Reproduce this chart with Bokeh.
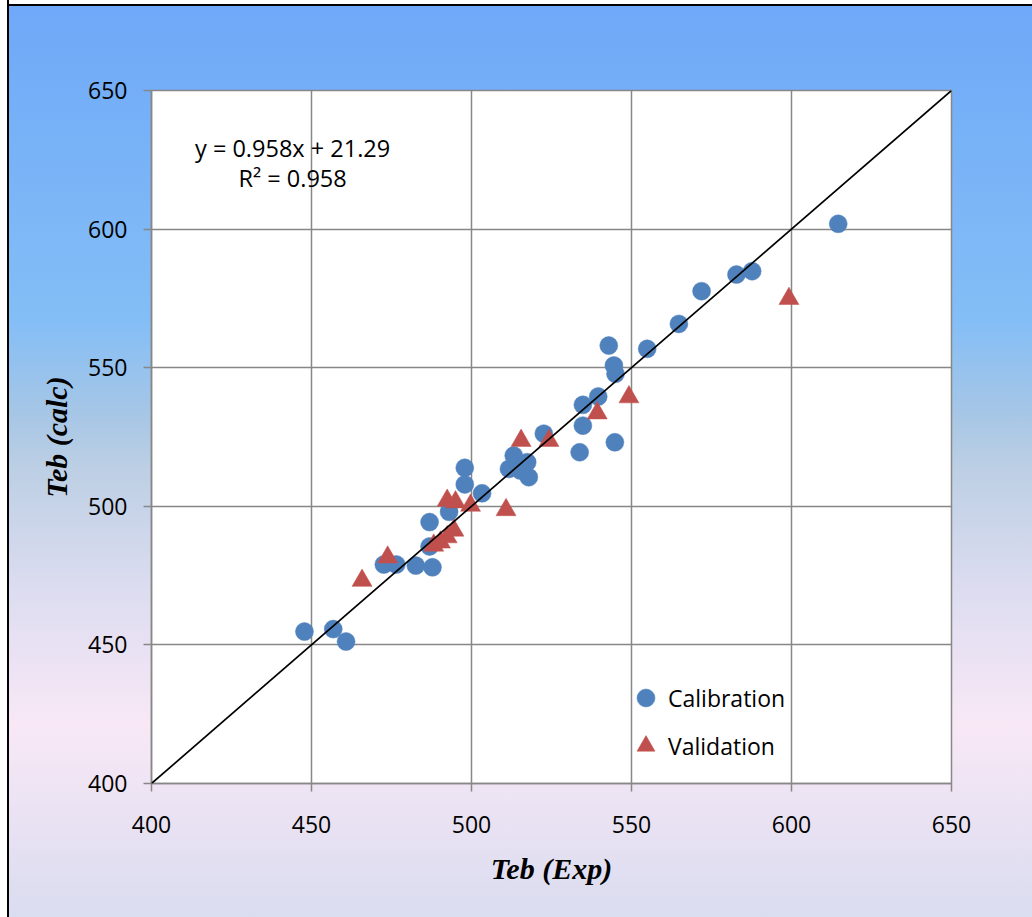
from bokeh.plotting import figure
from bokeh.models import Label, Slope, Legend
from bokeh.embed import file_html
from bokeh.resources import INLINE

# Calibration set (experimental vs calculated)
cal_exp = [447.8, 456.8, 460.8, 472.6, 476.5, 482.6, 487.8, 486.9, 486.9, 493.0,
           497.9, 497.9, 503.3, 511.7, 513.2, 517.4, 517.9, 515.3, 522.6, 533.8,
           534.8, 534.8, 539.6, 544.8, 542.9, 544.5, 545.0, 554.9, 564.8, 571.9,
           582.8, 587.7, 614.6]
cal_calc = [454.8, 455.7, 451.2, 479.0, 479.0, 478.6, 478.0, 494.3, 485.5, 498.0,
            513.9, 507.9, 504.7, 513.5, 518.3, 515.9, 510.5, 512.9, 526.2, 519.5,
            529.1, 536.6, 539.6, 523.1, 558.0, 550.8, 547.8, 556.8, 565.8, 577.6,
            583.6, 584.8, 601.9]

# Validation set
val_exp = [465.8, 473.8, 492.4, 495.0, 488.2, 490.3, 492.4, 494.5, 499.7, 510.8,
           515.5, 524.2, 539.3, 549.2, 599.2]
val_calc = [473.2, 481.6, 502.1, 501.5, 485.9, 487.0, 488.9, 491.3, 500.3, 498.7,
            523.7, 523.7, 533.6, 539.4, 574.9]

ticks = [400, 450, 500, 550, 600, 650]
eq_text = "y = 0.958x + 21.29"
r2_text = "R² = 0.958"

p = figure(width=1032, height=917, x_range=(400, 650), y_range=(400, 650),
           output_backend="svg", toolbar_location=None,
           min_border_left=151, min_border_right=81, min_border_top=90,
           min_border_bottom=134)
p.border_fill_color = None
p.background_fill_color = "white"
p.outline_line_color = "#878787"
p.outline_line_width = 1.5
p.styles = {
    "background": (
        "linear-gradient(to right, #ffffff 0px, #ffffff 7px, #000000 7px, #000000 9px, rgba(0,0,0,0) 9px),"
        "linear-gradient(to bottom, #ffffff 0px, #ffffff 4px, #000000 4px, #000000 6px, rgba(0,0,0,0) 6px),"
        "linear-gradient(to bottom, #6ea8f8 0%, #84bef6 35%, #a6c6e6 45%, #bccfe4 51%, "
        "#dcdcf0 64%, #f8e8f6 79%, #dadcf0 100%)"
    )
}

GRID = "#878787"
for ax in (p.xaxis[0], p.yaxis[0]):
    ax.ticker = ticks
    ax.axis_line_color = GRID
    ax.axis_line_width = 1.5
    ax.major_tick_line_color = GRID
    ax.major_tick_line_width = 1.5
    ax.major_tick_out = 8
    ax.major_tick_in = 0
    ax.minor_tick_line_color = None
    ax.major_label_text_font = "Open Sans"
    ax.major_label_text_font_size = "23px"
    ax.major_label_text_color = "black"
    ax.axis_label_text_font = "Liberation Serif"
    ax.axis_label_text_font_style = "bold italic"
    ax.axis_label_text_font_size = "30px"
    ax.axis_label_text_color = "black"

p.xaxis.axis_label = "Teb (Exp)"
p.yaxis.axis_label = "Teb (calc)"
p.xaxis.major_label_standoff = 24
p.yaxis.major_label_standoff = 16
p.xaxis.axis_label_standoff = 16
p.yaxis.axis_label_standoff = 12

p.xgrid.ticker = ticks
p.ygrid.ticker = ticks
p.grid.grid_line_color = GRID
p.grid.grid_line_width = 1.5

p.add_layout(Slope(gradient=1, y_intercept=0, line_color="black", line_width=1.7))

r_cal = p.scatter(cal_exp, cal_calc, marker="circle", size=18,
                  fill_color="#4f81bd", line_color="#4f81bd", line_width=0.5)
r_val = p.scatter(val_exp, val_calc, marker="triangle", size=20,
                  fill_color="#c0504d", line_color="#c0504d", line_width=0.5)

legend = Legend(items=[("Calibration", [r_cal]), ("Validation", [r_val])],
                location=(472, 15))
legend.background_fill_alpha = 0
legend.border_line_color = None
legend.padding = 0
legend.margin = 0
legend.spacing = 3
legend.glyph_width = 45
legend.glyph_height = 45
legend.label_height = 45
legend.label_standoff = 0
legend.label_text_font = "Open Sans"
legend.label_text_font_size = "23px"
legend.label_text_color = "black"
p.add_layout(legend)

p.add_layout(Label(x=444.1, y=629.4, text=eq_text, text_align="center",
                   text_baseline="middle", text_font="Open Sans",
                   text_font_size="23.5px", text_color="black"))
p.add_layout(Label(x=444.1, y=618.3, text=r2_text, text_align="center",
                   text_baseline="middle", text_font="Open Sans",
                   text_font_size="23.5px", text_color="black"))

open("out.html", "w").write(file_html(p, INLINE))
